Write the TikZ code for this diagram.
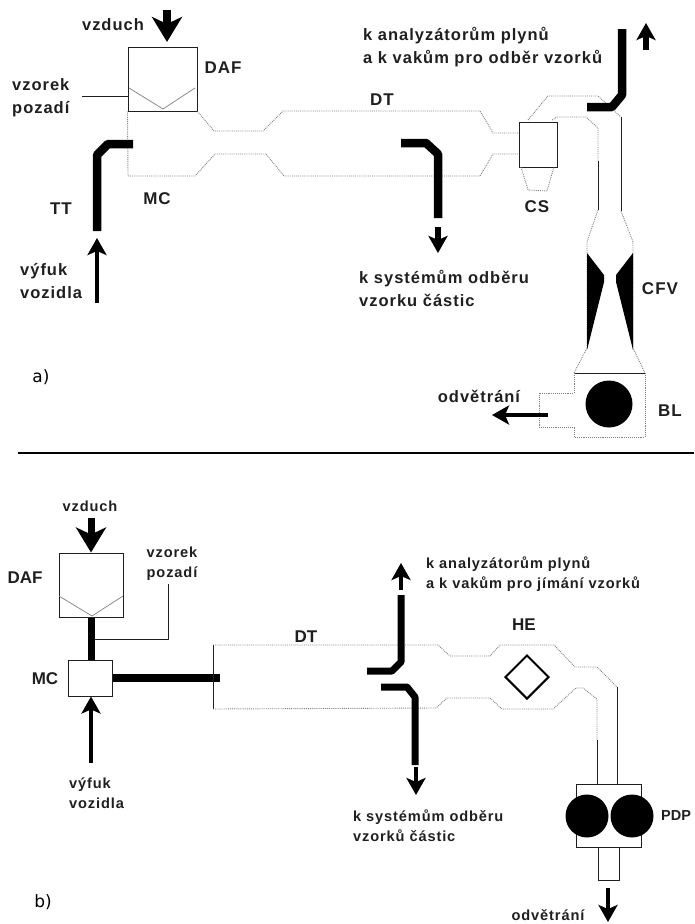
\documentclass[tikz,border=0pt]{standalone}
\usepackage{fontspec}
\setmainfont{Liberation Sans}
\newfontfamily\lblfont[LetterSpace=6]{Liberation Sans}
\newfontfamily\tagfont{DejaVu Sans}
\usetikzlibrary{arrows.meta,shapes.geometric}
\definecolor{ductgray}{gray}{0.5}
\definecolor{inkgray}{gray}{0.12}
\begin{document}
\begin{tikzpicture}[
    x=1pt, y=-1pt,
    lbl/.style={font=\lblfont\bfseries\fontsize{16.5}{23}\selectfont, align=left, inner sep=0pt, text=inkgray},
    lblsmall/.style={font=\lblfont\bfseries\fontsize{14.6}{20}\selectfont, align=left, inner sep=0pt, text=inkgray},
    abbr/.style={font=\lblfont\bfseries\fontsize{17}{18}\selectfont, inner sep=0pt, text=inkgray},
    abbrplain/.style={font=\bfseries\fontsize{17}{18}\selectfont, inner sep=0pt, text=inkgray},
    tagtext/.style={font=\tagfont\fontsize{17}{18}\selectfont, inner sep=0pt},
    box/.style={rectangle, draw=inkgray, line width=1pt, inner sep=0pt, fill=white},
    duct/.style={draw=ductgray, densely dotted, line width=0.9pt, line join=round},
    wall/.style={draw=inkgray, line width=0.9pt, line join=round},
    filter/.style={draw=ductgray, line width=0.7pt},
    pipe/.style={line width=8.5pt, line join=bevel},
    pipethin/.style={line width=7pt, line join=bevel},
    flow/.style={line width=4.5pt, -{Stealth[length=17pt,width=19pt,inset=4pt]}},
    airflow/.style={line width=8pt, -{Stealth[length=25pt,width=30pt,inset=7pt]}},
    pump/.style={circle, fill=black, inner sep=0pt}
]
    % --- a) ---
    \useasboundingbox (0,0) rectangle (694,924);

    \node[box, minimum width=69pt, minimum height=64pt] (dafA) at (162.5,79) {};
    \node[box, minimum width=38pt, minimum height=45pt] (csA) at (538,144.5) {};
    \node[pump, minimum size=47pt] (blA) at (609,404) {};

    \draw[filter] (129,88) -- (163,109) -- (195,88);

    % dilution tunnel
    \draw[duct] (dafA.south east) -- (214,131) -- (263,131) -- (283,111) -- (480,111) -- (493,133) -- (csA.west |- 0,133);
    \draw[duct] (dafA.south west) -- (128,176) -- (195,176) -- (215,154) -- (266,154) -- (284,176) -- (480,176) -- (493,154) -- (csA.west |- 0,154);
    \draw[duct] (521,167) -- (528,190) -- (547,191) -- (554,167);

    % duct to venturi
    \draw[duct] (528,120) -- (548,96) -- (598,96) -- (621,117);
    \draw[wall] (621,117) -- (621,211);
    \draw[duct] (621,211) -- (633,242) -- (633,348) -- (645,373);
    \draw[duct] (552,120) -- (557,117) -- (586,117) -- (598,128) -- (598,161);
    \draw[wall] (598,161) -- (598,210);
    \draw[duct] (598,210) -- (587,242) -- (587,348) -- (574,373);
    \fill (587,253) -- (604,275) -- (604,282) -- (587,350) -- cycle;
    \fill (633,253) -- (616,275) -- (616,282) -- (633,350) -- cycle;

    % blower housing
    \draw[wall] (574,373) -- (645,373);
    \draw[duct] (574,373) -- (574,393) -- (539,393) -- (539,427) -- (574,427) -- (574,437) -- (645,437) -- (645,373);

    \draw[pipe] (97,231) -- (97,155) -- (108,144) -- (133,144);
    \draw[pipe] (401,143) -- (426,143) -- (438,154) -- (438,218);
    \draw[pipe] (622,29) -- (622,95) -- (612,107) -- (587,107);

    \coordinate (airA) at (167,10);
    \coordinate (exhaustA) at (97,303);
    \coordinate (exhaustAend) at (97,238);
    \coordinate (gasAbeg) at (646,50);
    \coordinate (gasAend) at (646,23);
    \coordinate (partAbeg) at (438,227);
    \coordinate (partAend) at (438,253);
    \coordinate (ventAbeg) at (548,415);
    \coordinate (ventAend) at (492,415);
    \coordinate (bgA) at (82,96);

    \draw[airflow] (airA) -- (167,42);
    \draw[flow] (exhaustA) -- (exhaustAend);
    \draw[flow, line width=6pt] (gasAbeg) -- (gasAend);
    \draw[flow, line width=6pt] (partAbeg) -- (partAend);
    \draw[flow] (ventAbeg) -- (ventAend);
    \draw[wall] (bgA) -- (bgA -| dafA.west);

    \node[lbl] (airAlbl) at (113,25) {vzduch};
    \node[abbr] (dafAlbl) at (223,68) {DAF};
    \node[lbl, anchor=west] (bgAlbl) at (12,97.5) {vzorek\\pozadí};
    \node[abbr] (ttAlbl) at (61,209) {TT};
    \node[abbr] (mcAlbl) at (157,199) {MC};
    \node[lbl, anchor=west] (exhAlbl) at (20,281) {výfuk\\vozidla};
    \node[abbr] (dtAlbl) at (382,100) {DT};
    \node[abbr] (csAlbl) at (537,207) {CS};
    \node[abbr] (cfvAlbl) at (660,289) {CFV};
    \node[abbr] (blAlbl) at (670,411) {BL};
    \node[lbl, anchor=west] (gasAlbl) at (363,47.5) {k analyzátorům plynů\\a k vakům pro odběr vzorků};
    \node[lbl, anchor=west] (partAlbl) at (359,288) {k systémům odběru\\vzorku částic};
    \node[lbl] (ventAlbl) at (479,396) {odvětrání};
    \node[tagtext] (tagA) at (41,377) {a)};

    \coordinate (ruleL) at (18,453);
    \coordinate (ruleR) at (694,453);
    \draw[line width=2pt] (ruleL) -- (ruleR);

    % --- b) ---
    \node[box, minimum width=64pt, minimum height=64pt] (dafB) at (91,585) {};
    \node[box, minimum width=44pt, minimum height=36pt] (mcB) at (90,678) {};
    \node[box, minimum width=65pt, minimum height=63pt] (pdpB) at (608.5,815.5) {};
    \node[box, minimum width=21pt, minimum height=33pt] (outB) at (608.5,863.5) {};
    \node[diamond, draw=black, line width=2pt, inner sep=0pt, minimum size=44pt] (heB) at (527,677) {};
    \node[pump, minimum size=43pt] (pumpBl) at (587,816) {};
    \node[pump, minimum size=43pt] (pumpBr) at (632,816) {};

    \draw[filter] (59,596) -- (92,616) -- (123,596);
    \draw[pipethin] (dafB.south -| 91,0) -- (mcB.north -| 91,0);
    \draw[pipe] (mcB.east) -- (220,678);

    \draw[wall] (213,645) -- (213,709);
    \draw[duct] (213,645) -- (438,645) -- (450,656) -- (490,656) -- (500,645) -- (554,645) -- (575,667) -- (597,667) -- (617,687);
    \draw[wall] (617,687) -- (pdpB.north -| 617,0);
    \draw[duct] (213,709) -- (436,708) -- (447,698) -- (490,698) -- (502,709) -- (553,709) -- (576,688) -- (583,688) -- (597,699) -- (597,740);
    \draw[wall] (597,740) -- (pdpB.north -| 597,0);

    \draw[pipethin] (401,595) -- (401,662) -- (392,671) -- (367,671);
    \draw[pipethin] (381,687) -- (407,687) -- (415,697) -- (415,765);

    \coordinate (airB) at (91,518);
    \coordinate (exhaustB) at (91,763);
    \coordinate (gasBbeg) at (401,590);
    \coordinate (gasBend) at (401,563);
    \coordinate (partBbeg) at (416,767);
    \coordinate (partBend) at (416,795);
    \coordinate (ventBbeg) at (608,888);
    \coordinate (ventBend) at (608,922);
    \coordinate (bgB) at (168,584);
    \coordinate (bgBknee) at (168,639);
    \coordinate (bgBend) at (94,639);

    \draw[airflow, line width=7pt] (airB) -- (dafB.north -| airB);
    \draw[flow, line width=3.5pt] (exhaustB) -- (mcB.south -| exhaustB);
    \draw[flow, line width=4pt] (gasBbeg) -- (gasBend);
    \draw[flow, line width=4pt] (partBbeg) -- (partBend);
    \draw[flow, line width=4pt] (ventBbeg) -- (ventBend);
    \draw[wall] (bgB) -- (bgBknee) -- (bgBend);

    \node[lblsmall] (airBlbl) at (90,506) {vzduch};
    \node[abbrplain] (dafBlbl) at (25,578) {DAF};
    \node[lblsmall, align=center] (bgBlbl) at (172,564) {vzorek\\pozadí};
    \node[abbrplain] (mcBlbl) at (45,679) {MC};
    \node[lblsmall, anchor=west] (exhBlbl) at (69,793) {výfuk\\vozidla};
    \node[abbrplain] (dtBlbl) at (306,637) {DT};
    \node[abbrplain] (heBlbl) at (524,625) {HE};
    \node[abbrplain, font=\bfseries\fontsize{14.5}{18}\selectfont, anchor=west] (pdpBlbl) at (661,816) {PDP};
    \node[lblsmall, anchor=west] (gasBlbl) at (426,574.5) {k analyzátorům plynů\\a k vakům pro jímání vzorků};
    \node[lblsmall, anchor=west] (partBlbl) at (353,826) {k systémům odběru\\vzorků částic};
    \node[lblsmall] (ventBlbl) at (548,915) {odvětrání};
    \node[tagtext] (tagB) at (43,902) {b)};
\end{tikzpicture}
\end{document}
